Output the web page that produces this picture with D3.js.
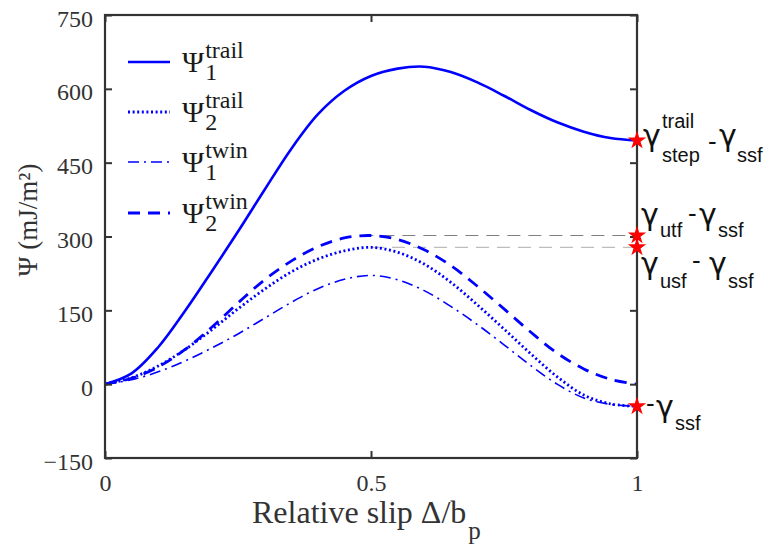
<!DOCTYPE html>
<html>
<head>
<meta charset="utf-8">
<script src="https://cdn.jsdelivr.net/npm/d3@7"></script>
<style>
  html, body { margin: 0; padding: 0; background: #fff; }
  svg { display: block; }
</style>
</head>
<body>
<svg id="chart" width="767" height="547"></svg>
<script>
// ---------- data ----------
const slip = [0, 0.05, 0.1, 0.15, 0.2, 0.25, 0.3, 0.35, 0.4, 0.45, 0.5,
              0.55, 0.6, 0.65, 0.7, 0.75, 0.8, 0.85, 0.9, 0.95, 1.0];
const psi1Trail = [0, 22, 75, 148, 228, 310, 395, 478, 548, 596, 626,
                   641, 645, 634, 613, 586, 557, 532, 513, 500, 495];
const psi2Trail = [0, 13, 37, 70, 110, 153, 193, 228, 254, 271, 278,
                   268, 244, 207, 161, 112, 62, 15, -22, -40, -45];
const psi1Twin  = [0, 9, 25, 47, 73, 102, 134, 166, 194, 213, 221,
                   212, 190, 158, 121, 80, 38, 0, -28, -41, -45];
const psi2Twin  = [0, 12, 35, 70, 115, 165, 212, 250, 279, 297, 302,
                   294, 273, 241, 199, 153, 106, 63, 31, 10, 0];
const yTicks = [-150, 0, 150, 300, 450, 600, 750];
const xTicks = [0, 0.5, 1];
const xTickLabels = ["0", "0.5", "1"];
const refLevels = [302, 278];          // gamma_utf - gamma_ssf, gamma_usf - gamma_ssf
const starValues = [495, 302, 278, -45];
const seriesNames = ["trail", "trail", "twin", "twin"];
const seriesIdx = ["1", "2", "1", "2"];

// ---------- setup ----------
const svg = d3.select("#chart");
const L = 105, R = 637, T = 15, B = 458;
const x = d3.scaleLinear().domain([0, 1]).range([L, R]);
const y = d3.scaleLinear().domain([-150, 750]).range([B, T]);
const axisColor = "#333333";
const serif = "'Liberation Serif', 'Times New Roman', serif";
const sans = "'Liberation Sans', Arial, sans-serif";
const greek = "'DejaVu Sans', sans-serif";

const series = [
  { v: psi1Trail, dash: null, w: 2.6 },
  { v: psi2Trail, dash: "2,2.6", w: 2.8 },
  { v: psi1Twin,  dash: "11,5,2,5", w: 1.6 },
  { v: psi2Twin,  dash: "12,8", w: 2.8 }
];

// reference dashed lines
const refColors = ["#7f7f7f", "#bdbdbd"];
const refStart = [0.48, 0.5];
svg.append("g").selectAll("line").data(refLevels).join("line")
  .attr("x1", (d, i) => x(refStart[i])).attr("x2", x(1))
  .attr("y1", d => y(d)).attr("y2", d => y(d))
  .attr("stroke", (d, i) => refColors[i])
  .attr("stroke-width", 1.2)
  .attr("stroke-dasharray", "13,8");

// curves
const line = d3.line()
  .x((d, i) => x(slip[i]))
  .y(d => y(d))
  .curve(d3.curveCatmullRom.alpha(0.5));

svg.append("g").selectAll("path").data(series).join("path")
  .attr("d", d => line(d.v))
  .attr("fill", "none")
  .attr("stroke", "#0000ff")
  .attr("stroke-width", d => d.w)
  .attr("stroke-dasharray", d => d.dash);

// axes
const gL = svg.append("g").attr("transform", `translate(${L},0)`)
  .call(d3.axisLeft(y).tickValues(yTicks).tickSize(-7).tickSizeOuter(0).tickPadding(12));
const gB = svg.append("g").attr("transform", `translate(0,${B})`)
  .call(d3.axisBottom(x).tickValues(xTicks).tickFormat((d, i) => xTickLabels[i])
    .tickSize(-7).tickSizeOuter(0).tickPadding(16));
const gR = svg.append("g").attr("transform", `translate(${R},0)`)
  .call(d3.axisRight(y).tickValues(yTicks).tickFormat("").tickSize(-7).tickSizeOuter(0));
const gT = svg.append("g").attr("transform", `translate(0,${T})`)
  .call(d3.axisTop(x).tickValues(xTicks).tickFormat("").tickSize(-7).tickSizeOuter(0));

[gL, gB, gR, gT].forEach(g => {
  g.select(".domain").remove();
  g.selectAll(".tick line").attr("stroke", axisColor).attr("stroke-width", 2);
  g.selectAll(".tick text").attr("fill", axisColor)
    .style("font-family", serif).style("font-size", "24px");
});
gL.selectAll(".tick text").attr("dy", "0.46em");

// frame
svg.append("rect")
  .attr("x", L).attr("y", T).attr("width", R - L).attr("height", B - T)
  .attr("fill", "none").attr("stroke", axisColor).attr("stroke-width", 2.2);

// stars
svg.append("g").selectAll("path").data(starValues).join("path")
  .attr("d", d3.symbol().type(d3.symbolStar).size(105))
  .attr("transform", d => `translate(${x(1)},${y(d)})`)
  .attr("fill", "#ff0000");

// axis titles
svg.append("text")
  .attr("transform", "translate(37,220) rotate(-90)")
  .attr("text-anchor", "middle")
  .attr("fill", axisColor)
  .style("font-family", serif).style("font-size", "27px")
  .text("Ψ (mJ/m²)");

const xt = svg.append("text")
  .attr("x", 252).attr("y", 523)
  .attr("fill", axisColor)
  .style("font-family", serif).style("font-size", "32px");
xt.append("tspan").text("Relative slip Δ/b");
xt.append("tspan").attr("dx", 2).attr("dy", 16).style("font-size", "25px").text("p");

// legend
const legY = [62, 112, 162, 213];
const lg = svg.append("g");
lg.selectAll("line").data(series).join("line")
  .attr("x1", 128).attr("x2", 170)
  .attr("y1", (d, i) => legY[i]).attr("y2", (d, i) => legY[i])
  .attr("stroke", "#0000ff")
  .attr("stroke-width", d => d.w)
  .attr("stroke-dasharray", d => d.dash);
seriesNames.forEach((nm, i) => {
  const by = legY[i] + 10;
  const p = lg.append("text").attr("x", 182).attr("y", by).attr("fill", "#1a1a1a")
    .style("font-family", serif).style("font-size", "30px").text("Ψ");
  const sx = 182 + p.node().getComputedTextLength() + 1;
  lg.append("text").attr("x", sx).attr("y", by - 14).attr("fill", "#1a1a1a")
    .style("font-family", serif).style("font-size", "24px").text(nm);
  lg.append("text").attr("x", sx).attr("y", by + 8).attr("fill", "#1a1a1a")
    .style("font-family", serif).style("font-size", "24px").text(seriesIdx[i]);
});

// right-side annotations
const ann = svg.append("g").attr("fill", "#111");
function g(xp, yp, size, txt, fam) {
  ann.append("text").attr("x", xp).attr("y", yp)
    .style("font-family", fam || sans).style("font-size", size + "px").text(txt);
}
// gamma_step^trail - gamma_ssf
g(643, 146, 30, "γ", greek); g(662, 128, 20, "trail"); g(662, 162, 20, "step");
g(708, 150, 26, "-"); g(719, 146, 30, "γ", greek); g(737, 162, 20, "ssf");
// gamma_utf - gamma_ssf
g(641, 225, 30, "γ", greek); g(660, 237, 20, "utf");
g(688, 222, 26, "-"); g(699, 225, 30, "γ", greek); g(718, 237, 20, "ssf");
// gamma_usf - gamma_ssf
g(641, 274, 30, "γ", greek); g(660, 288, 20, "usf");
g(692, 269, 26, "-"); g(709, 274, 30, "γ", greek); g(728, 288, 20, "ssf");
// gamma_ssf
g(646, 412, 26, "-"); g(656, 417, 30, "γ", greek); g(675, 430, 20, "ssf");
</script>
</body>
</html>
